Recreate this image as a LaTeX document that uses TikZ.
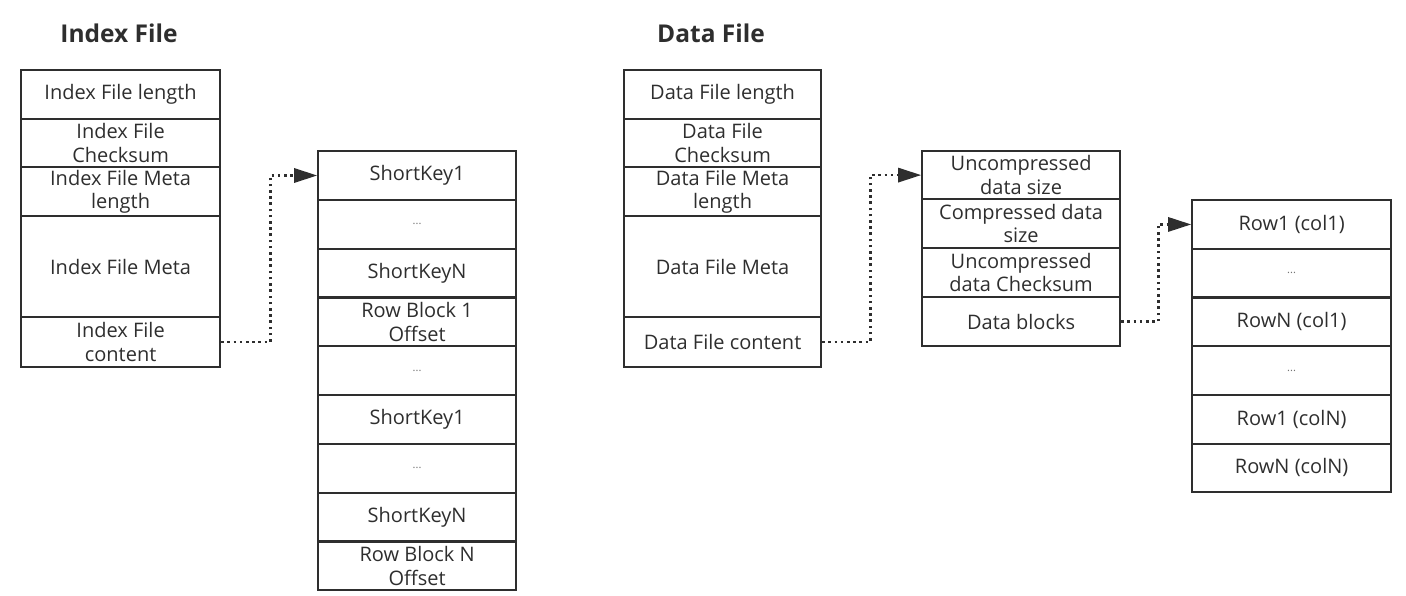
\documentclass[tikz,border=0pt]{standalone}
\usepackage{fontspec}
\setmainfont{Open Sans}
\usetikzlibrary{arrows.meta}
\definecolor{ink}{HTML}{2E2E2E}
\newcommand{\ellip}{{\fontsize{11}{11}\selectfont\color{black!55}...}}
\begin{document}
\begin{tikzpicture}[x=1pt,y=-1pt,
  cell/.style={draw=ink, line width=2.2pt, anchor=north west, inner sep=0pt, align=center,
    font=\fontsize{20}{23.5}\selectfont, text=ink},
  title/.style={font=\bfseries\fontsize{24.5}{28}\selectfont, text=ink},
  conn/.style={draw=ink, line width=2.6pt, dash pattern=on 2.6pt off 3.6pt, -{Triangle[length=23pt,width=15pt,line width=0pt]}}
]
\useasboundingbox (0,0) rectangle (1406,596);

% titles
\node[title] (t1) at (119,33) {Index File};
\node[title] (t2) at (711,33) {Data File};

% Index File column
\node[cell, minimum width=199pt, minimum height=49pt] (i1) at (20,69) {Index File length};
\node[cell, minimum width=199pt, minimum height=48pt] (i2) at (20,118) {Index File\\Checksum};
\node[cell, minimum width=199pt, minimum height=49pt] (i3) at (20,166) {Index File Meta\\length};
\node[cell, minimum width=199pt, minimum height=101pt] (i4) at (20,215) {Index File Meta};
\node[cell, minimum width=199pt, minimum height=50pt] (i5) at (20,316) {Index File\\content};

% ShortKey column
\node[cell, minimum width=198pt, minimum height=48.8pt] (s1) at (317,150.0) {ShortKey1};
\node[cell, minimum width=198pt, minimum height=48.8pt] (s2) at (317,198.8) {\ellip};
\node[cell, minimum width=198pt, minimum height=48.8pt] (s3) at (317,247.6) {ShortKeyN};
\node[cell, minimum width=198pt, minimum height=48.8pt] (s4) at (317,296.4) {Row Block 1\\Offset};
\node[cell, minimum width=198pt, minimum height=48.8pt] (s5) at (317,345.2) {\ellip};
\node[cell, minimum width=198pt, minimum height=48.8pt] (s6) at (317,394.0) {ShortKey1};
\node[cell, minimum width=198pt, minimum height=48.8pt] (s7) at (317,442.8) {\ellip};
\node[cell, minimum width=198pt, minimum height=48.8pt] (s8) at (317,491.6) {ShortKeyN};
\node[cell, minimum width=198pt, minimum height=48.8pt] (s9) at (317,540.4) {Row Block N\\Offset};

% Data File column
\node[cell, minimum width=197pt, minimum height=49pt] (d1) at (623,69) {Data File length};
\node[cell, minimum width=197pt, minimum height=48pt] (d2) at (623,118) {Data File\\Checksum};
\node[cell, minimum width=197pt, minimum height=49pt] (d3) at (623,166) {Data File Meta\\length};
\node[cell, minimum width=197pt, minimum height=101pt] (d4) at (623,215) {Data File Meta};
\node[cell, minimum width=197pt, minimum height=50pt] (d5) at (623,316) {Data File content};

% Middle data column
\node[cell, minimum width=198pt, minimum height=48pt] (m1) at (921,150) {Uncompressed\\data size};
\node[cell, minimum width=198pt, minimum height=49pt] (m2) at (921,198) {Compressed data\\size};
\node[cell, minimum width=198pt, minimum height=49pt] (m3) at (921,247) {Uncompressed\\data Checksum};
\node[cell, minimum width=198pt, minimum height=49pt] (m4) at (921,296) {Data blocks};

% Rows column
\node[cell, minimum width=199pt, minimum height=48.7pt] (r1) at (1191,199.0) {Row1 (col1)};
\node[cell, minimum width=199pt, minimum height=48.7pt] (r2) at (1191,247.7) {\ellip};
\node[cell, minimum width=199pt, minimum height=48.7pt] (r3) at (1191,296.4) {RowN (col1)};
\node[cell, minimum width=199pt, minimum height=48.7pt] (r4) at (1191,345.1) {\ellip};
\node[cell, minimum width=199pt, minimum height=48.7pt] (r5) at (1191,393.8) {Row1 (colN)};
\node[cell, minimum width=199pt, minimum height=48.7pt] (r6) at (1191,442.5) {RowN (colN)};

% connectors
\draw[conn] (i5.east) -- ++(49,0) |- (s1.west);
\draw[conn] (d5.east) -- ++(48,0) |- (m1.west);
\draw[conn] (m4.east) -- ++(37,0) |- (r1.west);
\end{tikzpicture}
\end{document}
